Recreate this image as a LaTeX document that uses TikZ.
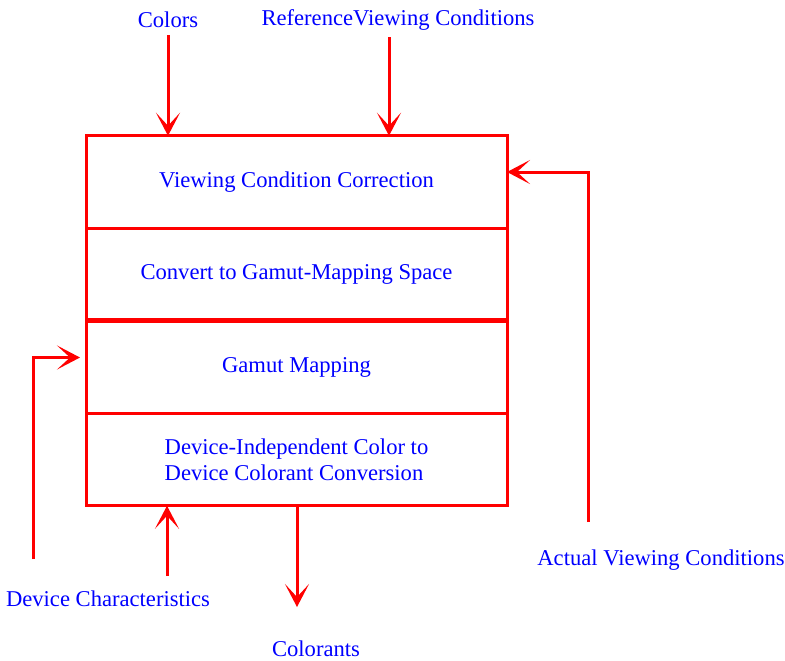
\documentclass[tikz,border=0pt]{standalone}
\usepackage{fontspec}
\setmainfont{Liberation Serif}
\usepackage{tikz}
\usetikzlibrary{arrows.meta,positioning}
\definecolor{flowred}{RGB}{255,0,0}
\definecolor{labelblue}{RGB}{0,0,255}

\begin{document}
\begin{tikzpicture}[x=0.5pt, y=-0.5pt,
  node distance=0pt,
  stage/.style={draw=flowred, line width=1.5pt, outer sep=0pt, minimum width=210.5pt, minimum height=46.25pt, font=\fontsize{11.3}{13}\selectfont, text=labelblue, align=center},
  lbl/.style={font=\fontsize{11.3}{13}\selectfont, text=labelblue},
  arr/.style={draw=flowred, line width=1.5pt, -{Stealth[length=11.5pt, width=12pt, inset=6.5pt]}}]
\useasboundingbox (0,0) rectangle (785,660);
\node[stage] (vcc) at (296.5,182) {\raisebox{-1pt}{Viewing Condition Correction}};
\node[stage, below=of vcc] (cgm) {\raisebox{-2pt}{Convert to Gamut-Mapping Space}};
\node[stage, below=of cgm] (gm) {\raisebox{-1pt}{Gamut Mapping}};
\node[stage, below=of gm, align=left] (dicc) {Device-Independent Color to\\Device Colorant Conversion};
\draw[flowred, line width=2.5pt] (cgm.south west) -- (cgm.south east);
\node[lbl] (colors) at (168,20) {Colors};
\node[lbl] (refvc) at (398,20) {ReferenceViewing Conditions};
\node[lbl] (actual) at (661,560) {Actual Viewing Conditions};
\node[lbl] (devchar) at (108,599) {Device Characteristics};
\node[lbl] (colorants) at (316,649) {Colorants};
\coordinate (avcin) at (588,522);
\coordinate (dcin) at (33,559);
\coordinate (dcup) at (167,576);
\coordinate (colout) at (297,607);
\draw[arr] (colors.south) -- (colors.south |- vcc.north);
\draw[arr] ([xshift=-4.5pt]refvc.south) -- ([xshift=-4.5pt]refvc.south |- vcc.north);
\draw[arr] (avcin) |- ([yshift=5pt]vcc.east);
\draw[arr] (dcin) |- ([xshift=-3pt, yshift=4.75pt]gm.west);
\draw[arr] (dcup) -- (dcup |- dicc.south);
\draw[arr] (dicc.south -| colout) -- (colout);
\end{tikzpicture}
\end{document}
